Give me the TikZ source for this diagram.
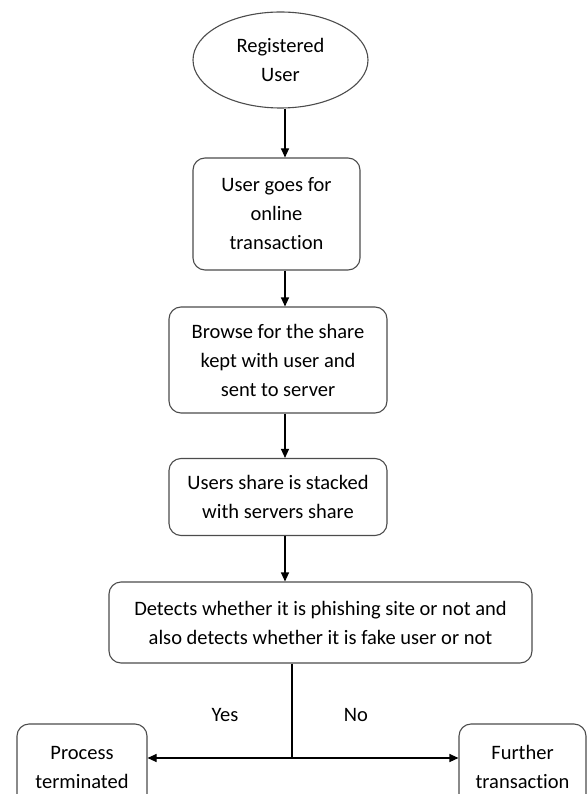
\documentclass[tikz,border=0pt]{standalone}
\usepackage{fontspec}
\setmainfont{Carlito}[Ligatures=NoCommon]
\usetikzlibrary{arrows.meta,positioning,shapes.geometric}

\begin{document}
\begin{tikzpicture}[x=1pt, y=-1pt,
    every node/.style={align=center, inner sep=0pt, font=\fontsize{20.5}{29}\selectfont},
    stepbox/.style={draw=black!70, line width=1.1pt, rounded corners=12pt},
    startoval/.style={draw=black!70, line width=1.1pt, ellipse},
    flow/.style={-{Triangle[length=9pt,width=8pt]}, line width=1.1pt},
    plain/.style={line width=1.1pt}]
  \useasboundingbox (0,0) rectangle (587,794);
  \clip (0,0) rectangle (587,794);

  \coordinate (spine) at (285,0);
  \coordinate (drop) at (292,0);

  \node[startoval, minimum width=175pt, minimum height=96pt] (user) at (280.5,60) {Registered\\User};
  \node[stepbox, minimum width=167pt, minimum height=112pt] (goes) at (276.5,214) {User goes for\\online\\transaction};
  \node[stepbox, minimum width=218pt, minimum height=106pt] (browse) at (278,360) {Browse for the share\\kept with user and\\sent to server};
  \node[stepbox, minimum width=218pt, minimum height=77pt] (stack) at (278,497) {Users share is stacked\\with servers share};
  \node[stepbox, minimum width=423pt, minimum height=81pt] (detect) at (320.5,622.5) {Detects whether it is phishing site or not and\\also detects whether it is fake user or not};
  \node[stepbox, minimum width=130pt, minimum height=86pt] (stop) at (82,767) {Process\\terminated};
  \node[stepbox, minimum width=127pt, minimum height=86pt] (further) at (522.5,767) {Further\\transaction};

  % main line down
  \draw[flow] (user.south -| spine) -- (goes.north -| spine);
  \draw[flow] (goes.south -| spine) -- (browse.north -| spine);
  \draw[flow] (browse.south -| spine) -- (stack.north -| spine);
  \draw[flow] (stack.south -| spine) -- (detect.north -| spine);

  % decision split
  \coordinate (split) at (292,758);
  \draw[plain] (detect.south -| drop) -- (split);
  \draw[flow] (split) -- (stop.east |- split);
  \draw[flow] (split) -- (further.west |- split);
  \node (yes) at (225,715) {Yes};
  \node (no) at (356,715) {No};
\end{tikzpicture}
\end{document}
